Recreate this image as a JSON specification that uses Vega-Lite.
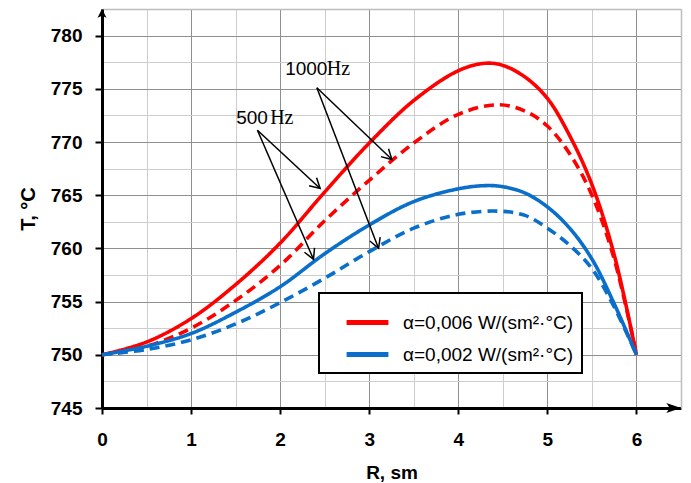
{
  "$schema": "https://vega.github.io/schema/vega-lite/v6.json",
  "width": 579,
  "height": 399,
  "autosize": {"type": "none"},
  "padding": {"left": 102, "top": 9, "right": 10, "bottom": 75},
  "background": "white",
  "config": {
    "view": {"stroke": null},
    "legend": {"strokeWidth": 2}
  },
  "datasets": {
    "curves": [
      {"R": 0, "T": 750, "alpha": "α=0,006 W/(sm²·°C)", "f": "500 Hz"},
      {"R": 0.5, "T": 751.2, "alpha": "α=0,006 W/(sm²·°C)", "f": "500 Hz"},
      {"R": 1, "T": 753.4, "alpha": "α=0,006 W/(sm²·°C)", "f": "500 Hz"},
      {"R": 1.5, "T": 756.6, "alpha": "α=0,006 W/(sm²·°C)", "f": "500 Hz"},
      {"R": 2, "T": 760.5, "alpha": "α=0,006 W/(sm²·°C)", "f": "500 Hz"},
      {"R": 2.5, "T": 765.3, "alpha": "α=0,006 W/(sm²·°C)", "f": "500 Hz"},
      {"R": 3, "T": 769.9, "alpha": "α=0,006 W/(sm²·°C)", "f": "500 Hz"},
      {"R": 3.5, "T": 773.9, "alpha": "α=0,006 W/(sm²·°C)", "f": "500 Hz"},
      {"R": 4, "T": 776.7, "alpha": "α=0,006 W/(sm²·°C)", "f": "500 Hz"},
      {"R": 4.3, "T": 777.4, "alpha": "α=0,006 W/(sm²·°C)", "f": "500 Hz"},
      {"R": 4.5, "T": 777.2, "alpha": "α=0,006 W/(sm²·°C)", "f": "500 Hz"},
      {"R": 4.75, "T": 776.1, "alpha": "α=0,006 W/(sm²·°C)", "f": "500 Hz"},
      {"R": 5, "T": 774.1, "alpha": "α=0,006 W/(sm²·°C)", "f": "500 Hz"},
      {"R": 5.25, "T": 770.6, "alpha": "α=0,006 W/(sm²·°C)", "f": "500 Hz"},
      {"R": 5.5, "T": 766.0, "alpha": "α=0,006 W/(sm²·°C)", "f": "500 Hz"},
      {"R": 5.75, "T": 759.4, "alpha": "α=0,006 W/(sm²·°C)", "f": "500 Hz"},
      {"R": 6, "T": 750, "alpha": "α=0,006 W/(sm²·°C)", "f": "500 Hz"},

      {"R": 0, "T": 750, "alpha": "α=0,006 W/(sm²·°C)", "f": "1000 Hz"},
      {"R": 0.5, "T": 750.8, "alpha": "α=0,006 W/(sm²·°C)", "f": "1000 Hz"},
      {"R": 1, "T": 752.5, "alpha": "α=0,006 W/(sm²·°C)", "f": "1000 Hz"},
      {"R": 1.5, "T": 755.1, "alpha": "α=0,006 W/(sm²·°C)", "f": "1000 Hz"},
      {"R": 2, "T": 758.4, "alpha": "α=0,006 W/(sm²·°C)", "f": "1000 Hz"},
      {"R": 2.5, "T": 762.6, "alpha": "α=0,006 W/(sm²·°C)", "f": "1000 Hz"},
      {"R": 3, "T": 766.4, "alpha": "α=0,006 W/(sm²·°C)", "f": "1000 Hz"},
      {"R": 3.5, "T": 769.9, "alpha": "α=0,006 W/(sm²·°C)", "f": "1000 Hz"},
      {"R": 4, "T": 772.6, "alpha": "α=0,006 W/(sm²·°C)", "f": "1000 Hz"},
      {"R": 4.45, "T": 773.5, "alpha": "α=0,006 W/(sm²·°C)", "f": "1000 Hz"},
      {"R": 4.75, "T": 772.9, "alpha": "α=0,006 W/(sm²·°C)", "f": "1000 Hz"},
      {"R": 5, "T": 771.5, "alpha": "α=0,006 W/(sm²·°C)", "f": "1000 Hz"},
      {"R": 5.25, "T": 768.9, "alpha": "α=0,006 W/(sm²·°C)", "f": "1000 Hz"},
      {"R": 5.5, "T": 765.0, "alpha": "α=0,006 W/(sm²·°C)", "f": "1000 Hz"},
      {"R": 5.75, "T": 759.0, "alpha": "α=0,006 W/(sm²·°C)", "f": "1000 Hz"},
      {"R": 6, "T": 750, "alpha": "α=0,006 W/(sm²·°C)", "f": "1000 Hz"},

      {"R": 0, "T": 750, "alpha": "α=0,002 W/(sm²·°C)", "f": "500 Hz"},
      {"R": 0.5, "T": 750.8, "alpha": "α=0,002 W/(sm²·°C)", "f": "500 Hz"},
      {"R": 1, "T": 752.0, "alpha": "α=0,002 W/(sm²·°C)", "f": "500 Hz"},
      {"R": 1.5, "T": 754.0, "alpha": "α=0,002 W/(sm²·°C)", "f": "500 Hz"},
      {"R": 2, "T": 756.4, "alpha": "α=0,002 W/(sm²·°C)", "f": "500 Hz"},
      {"R": 2.5, "T": 759.5, "alpha": "α=0,002 W/(sm²·°C)", "f": "500 Hz"},
      {"R": 3, "T": 762.2, "alpha": "α=0,002 W/(sm²·°C)", "f": "500 Hz"},
      {"R": 3.5, "T": 764.4, "alpha": "α=0,002 W/(sm²·°C)", "f": "500 Hz"},
      {"R": 4, "T": 765.6, "alpha": "α=0,002 W/(sm²·°C)", "f": "500 Hz"},
      {"R": 4.3, "T": 765.9, "alpha": "α=0,002 W/(sm²·°C)", "f": "500 Hz"},
      {"R": 4.5, "T": 765.8, "alpha": "α=0,002 W/(sm²·°C)", "f": "500 Hz"},
      {"R": 4.75, "T": 765.2, "alpha": "α=0,002 W/(sm²·°C)", "f": "500 Hz"},
      {"R": 5, "T": 763.9, "alpha": "α=0,002 W/(sm²·°C)", "f": "500 Hz"},
      {"R": 5.25, "T": 761.9, "alpha": "α=0,002 W/(sm²·°C)", "f": "500 Hz"},
      {"R": 5.5, "T": 759.0, "alpha": "α=0,002 W/(sm²·°C)", "f": "500 Hz"},
      {"R": 5.75, "T": 754.8, "alpha": "α=0,002 W/(sm²·°C)", "f": "500 Hz"},
      {"R": 6, "T": 750, "alpha": "α=0,002 W/(sm²·°C)", "f": "500 Hz"},

      {"R": 0, "T": 750, "alpha": "α=0,002 W/(sm²·°C)", "f": "1000 Hz"},
      {"R": 0.5, "T": 750.5, "alpha": "α=0,002 W/(sm²·°C)", "f": "1000 Hz"},
      {"R": 1, "T": 751.4, "alpha": "α=0,002 W/(sm²·°C)", "f": "1000 Hz"},
      {"R": 1.5, "T": 752.9, "alpha": "α=0,002 W/(sm²·°C)", "f": "1000 Hz"},
      {"R": 2, "T": 754.9, "alpha": "α=0,002 W/(sm²·°C)", "f": "1000 Hz"},
      {"R": 2.5, "T": 757.2, "alpha": "α=0,002 W/(sm²·°C)", "f": "1000 Hz"},
      {"R": 3, "T": 759.7, "alpha": "α=0,002 W/(sm²·°C)", "f": "1000 Hz"},
      {"R": 3.5, "T": 761.9, "alpha": "α=0,002 W/(sm²·°C)", "f": "1000 Hz"},
      {"R": 4, "T": 763.2, "alpha": "α=0,002 W/(sm²·°C)", "f": "1000 Hz"},
      {"R": 4.45, "T": 763.5, "alpha": "α=0,002 W/(sm²·°C)", "f": "1000 Hz"},
      {"R": 4.75, "T": 763.1, "alpha": "α=0,002 W/(sm²·°C)", "f": "1000 Hz"},
      {"R": 5, "T": 761.9, "alpha": "α=0,002 W/(sm²·°C)", "f": "1000 Hz"},
      {"R": 5.25, "T": 760.3, "alpha": "α=0,002 W/(sm²·°C)", "f": "1000 Hz"},
      {"R": 5.5, "T": 758.1, "alpha": "α=0,002 W/(sm²·°C)", "f": "1000 Hz"},
      {"R": 5.75, "T": 754.5, "alpha": "α=0,002 W/(sm²·°C)", "f": "1000 Hz"},
      {"R": 6, "T": 750, "alpha": "α=0,002 W/(sm²·°C)", "f": "1000 Hz"}
    ],
    "arrows": [
      {"x0": 1.745, "y0": 771.1, "x1": 2.449, "y1": 765.63, "angle": 42.9},
      {"x0": 1.745, "y0": 771.1, "x1": 2.374, "y1": 758.98, "angle": 66.6},
      {"x0": 2.412, "y0": 775.1, "x1": 3.255, "y1": 768.35, "angle": 43.8},
      {"x0": 2.412, "y0": 775.1, "x1": 3.105, "y1": 760.0, "angle": 69.1}
    ],
    "labels": [
      {"num": "1000", "nx": 2.056, "unit": "Hz", "ux": 2.524, "y": 776.9},
      {"num": "500", "nx": 1.506, "unit": "Hz", "ux": 1.888, "y": 772.3}
    ]
  },
  "resolve": {"axis": {"x": "independent", "y": "independent"}},
  "layer": [
    {
      "data": {"name": "curves"},
      "mark": {"type": "line", "strokeWidth": 3.6, "interpolate": "catmull-rom"},
      "encoding": {
        "x": {
          "field": "R", "type": "quantitative",
          "scale": {"domain": [0, 6.5], "nice": false, "zero": false},
          "axis": {
            "orient": "bottom", "values": [0, 1, 2, 3, 4, 5, 6],
            "grid": true, "gridColor": "#8f8f8f", "gridWidth": 1,
            "domainColor": "black", "domainWidth": 3,
            "tickColor": "black", "tickWidth": 2, "tickSize": 6,
            "labelFont": "Liberation Sans", "labelFontSize": 19, "labelFontWeight": "bold",
            "labelColor": "black", "labelPadding": 16, "labelFlush": false,
            "title": "R, sm", "titleFont": "Liberation Sans", "titleFontSize": 19,
            "titleFontWeight": "bold", "titleColor": "black", "titlePadding": 14
          }
        },
        "y": {
          "field": "T", "type": "quantitative",
          "scale": {"domain": [745, 782.5], "nice": false, "zero": false},
          "axis": {
            "orient": "left", "values": [745, 750, 755, 760, 765, 770, 775, 780],
            "grid": true, "gridColor": "#8f8f8f", "gridWidth": 1,
            "domainColor": "black", "domainWidth": 3,
            "tickColor": "black", "tickWidth": 2, "tickSize": 7,
            "labelFont": "Liberation Sans", "labelFontSize": 19, "labelFontWeight": "bold",
            "labelColor": "black", "labelPadding": 13, "labelFlush": false,
            "title": "T, °C", "titleFont": "Liberation Sans", "titleFontSize": 20,
            "titleFontWeight": "bold", "titleColor": "black", "titlePadding": 12
          }
        },
        "color": {
          "field": "alpha", "type": "nominal",
          "scale": {
            "domain": ["α=0,006 W/(sm²·°C)", "α=0,002 W/(sm²·°C)"],
            "range": ["#ff0000", "#0a6fca"]
          },
          "legend": {
            "orient": "none", "legendX": 217, "legendY": 284,
            "title": null, "strokeColor": "black", "fillColor": "white",
            "padding": 8, "rowPadding": 0,
            "symbolType": "M-1.1,0H1.1", "symbolSize": 1444, "symbolStrokeWidth": 5,
            "symbolOffset": 19, "labelOffset": 14,
            "labelFont": "Liberation Sans", "labelFontSize": 19, "labelColor": "black",
            "labelLimit": 400
          }
        },
        "strokeDash": {
          "field": "f", "type": "nominal",
          "scale": {"domain": ["500 Hz", "1000 Hz"], "range": [[1, 0], [10, 6]]},
          "legend": null
        },
        "detail": {"field": "f"}
      }
    },
    {
      "data": {"name": "arrows"},
      "mark": {"type": "rule", "color": "black", "strokeWidth": 1.5},
      "encoding": {
        "x": {
          "field": "x0", "type": "quantitative",
          "axis": {
            "orient": "top", "values": [0.5, 1.5, 2.5, 3.5, 4.5, 5.5],
            "grid": true, "gridColor": "#cdcdcd", "gridWidth": 1,
            "domainColor": "#bdbdbd", "domainWidth": 1.5,
            "ticks": false, "labels": false, "title": null
          }
        },
        "x2": {"field": "x1"},
        "y": {
          "field": "y0", "type": "quantitative",
          "axis": {
            "orient": "right", "values": [747.5, 752.5, 757.5, 762.5, 767.5, 772.5, 777.5],
            "grid": true, "gridColor": "#cdcdcd", "gridWidth": 1,
            "domainColor": "#bdbdbd", "domainWidth": 1.5,
            "ticks": false, "labels": false, "title": null
          }
        },
        "y2": {"field": "y1"}
      }
    },
    {
      "data": {"name": "arrows"},
      "mark": {
        "type": "point", "shape": "M-1,-0.55L0,0L-1,0.55", "filled": false,
        "color": "black", "strokeWidth": 1.5, "size": 400, "opacity": 1
      },
      "encoding": {
        "x": {"field": "x1", "type": "quantitative", "axis": null},
        "y": {"field": "y1", "type": "quantitative", "axis": null},
        "angle": {"field": "angle", "type": "quantitative", "scale": null}
      }
    },
    {
      "data": {"name": "labels"},
      "mark": {
        "type": "text", "align": "left", "baseline": "middle",
        "font": "Liberation Sans", "fontSize": 19, "color": "black"
      },
      "encoding": {
        "x": {"field": "nx", "type": "quantitative", "axis": null},
        "y": {"field": "y", "type": "quantitative", "axis": null},
        "text": {"field": "num"}
      }
    },
    {
      "data": {"name": "labels"},
      "mark": {
        "type": "text", "align": "left", "baseline": "middle",
        "font": "Liberation Serif", "fontSize": 20, "color": "black"
      },
      "encoding": {
        "x": {"field": "ux", "type": "quantitative", "axis": null},
        "y": {"field": "y", "type": "quantitative", "axis": null},
        "text": {"field": "unit"}
      }
    },
    {
      "data": {"values": [{}]},
      "mark": {
        "type": "point", "shape": "M0,0L0.32,0.62L0,0.48L-0.32,0.62Z",
        "filled": true, "color": "black", "size": 784, "opacity": 1, "strokeWidth": 0
      },
      "encoding": {
        "x": {"datum": 0, "type": "quantitative", "axis": null},
        "y": {"datum": 782.5, "type": "quantitative", "axis": null}
      }
    },
    {
      "data": {"values": [{}]},
      "mark": {
        "type": "point", "shape": "M0,0L-1.05,-0.36L-0.8,0L-1.05,0.36Z",
        "filled": true, "color": "black", "size": 784, "opacity": 1, "strokeWidth": 0
      },
      "encoding": {
        "x": {"datum": 6.5, "type": "quantitative", "axis": null},
        "y": {"datum": 745, "type": "quantitative", "axis": null}
      }
    }
  ]
}
